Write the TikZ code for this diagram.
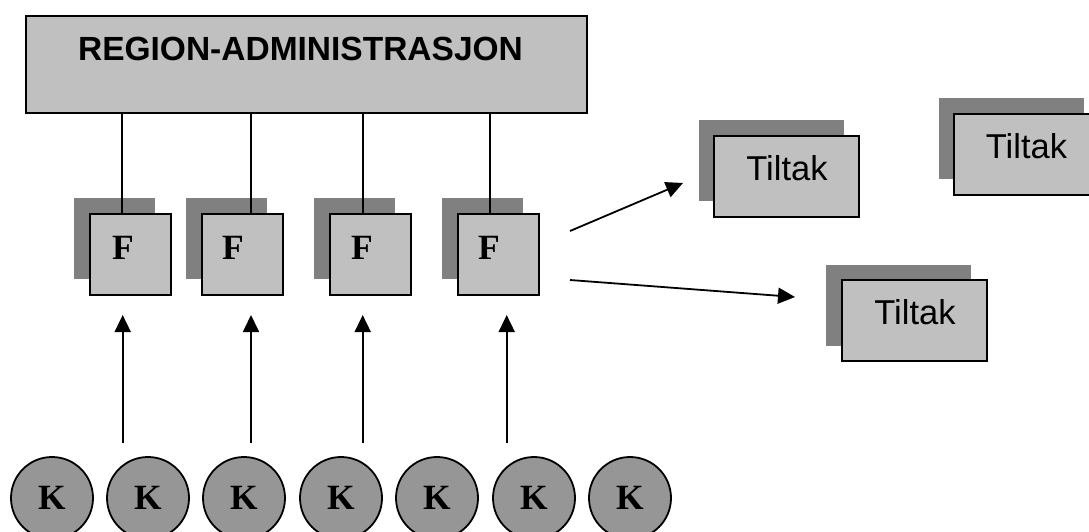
\documentclass[tikz,border=0pt]{standalone}
\usepackage{fontspec}
\setmainfont{Liberation Serif}
\newfontfamily\arialf{Liberation Sans}
\usetikzlibrary{arrows.meta}
\definecolor{boxgray}{RGB}{192,192,192}
\definecolor{shadowgray}{RGB}{128,128,128}
\definecolor{kgray}{RGB}{150,150,150}
\begin{document}
\begin{tikzpicture}[x=1pt,y=-1pt,
  shadowbox/.style={fill=shadowgray, draw=none, anchor=north west, inner sep=0pt, outer sep=0pt},
  frontbox/.style={fill=boxgray, draw=black, line width=2.2pt, anchor=north west, inner sep=0pt, outer sep=0pt},
  fsq/.style={minimum width=81pt, minimum height=81pt},
  tsq/.style={minimum width=145pt, minimum height=81pt},
  kcirc/.style={circle, fill=kgray, draw=black, line width=1.8pt, minimum size=82pt, inner sep=0pt},
  ftext/.style={font=\bfseries\fontsize{35.5}{40}\selectfont, anchor=base, inner sep=0pt},
  ttext/.style={font=\arialf\fontsize{34.5}{40}\selectfont, anchor=base, inner sep=0pt},
  conn/.style={draw=black, line width=1.8pt},
  arr/.style={conn, -{Triangle[length=17pt,width=16pt]}}
]
\useasboundingbox (0,0) rectangle (1089,531);
\clip (0,0) rectangle (1089,531);
\fill[white] (0,0) rectangle (1089,531);

% region box
\node[frontbox, minimum width=561pt, minimum height=97pt] (region) at (26,16) {};
\node[font=\arialf\bfseries\fontsize{33.5}{40}\selectfont, anchor=base, inner sep=0pt] (regiontxt) at (300.5,60) {REGION-ADMINISTRASJON};

% F shadows
\node[shadowbox, fsq] (fs1) at (74,198) {};
\node[shadowbox, fsq] (fs2) at (186,198) {};
\node[shadowbox, fsq] (fs3) at (314,198) {};
\node[shadowbox, fsq] (fs4) at (442,198) {};

% connectors region -> F (drawn before front boxes)
\coordinate (c1) at (122,214);
\coordinate (c2) at (251,214);
\coordinate (c3) at (363,214);
\coordinate (c4) at (490,214);
\foreach \i in {1,...,4}{
  \draw[conn] (c\i) -- (c\i |- region.south);
}

% F front boxes
\node[frontbox, fsq] (f1) at (90,214) {};
\node[frontbox, fsq] (f2) at (202,214) {};
\node[frontbox, fsq] (f3) at (330,214) {};
\node[frontbox, fsq] (f4) at (458,214) {};
\node[ftext] (ft1) at (123,259) {F};
\node[ftext] (ft2) at (233,259) {F};
\node[ftext] (ft3) at (362,259) {F};
\node[ftext] (ft4) at (489,259) {F};

% Tiltak boxes
\node[shadowbox, tsq] (ts1) at (699,120) {};
\node[frontbox, tsq] (t1) at (714,136) {};
\node[ttext] (tt1) at (787,180) {Tiltak};

\node[shadowbox, tsq] (ts2) at (939,98) {};
\node[frontbox, tsq] (t2) at (954,114) {};
\node[ttext] (tt2) at (1026.5,158.5) {Tiltak};

\node[shadowbox, tsq] (ts3) at (826,265) {};
\node[frontbox, tsq] (t3) at (842,280) {};
\node[ttext] (tt3) at (915,324) {Tiltak};

% arrows from F to Tiltak
\coordinate (d1) at (570,231);
\coordinate (e1) at (683,183);
\coordinate (d2) at (570,280);
\coordinate (e2) at (795,297);
\draw[arr] (d1) -- (e1);
\draw[arr] (d2) -- (e2);

% K circles
\foreach \i/\x in {1/52,2/148,3/244,4/341,5/437,6/534,7/630}{
  \node[kcirc] (k\i) at (\x,498) {};
  \node[ftext] (kt\i) at (\x,509) {K};
}

% upward arrows
\coordinate (u1) at (122.7,443);
\coordinate (u2) at (251,443);
\coordinate (u3) at (362.7,443);
\coordinate (u4) at (506.7,443);
\foreach \i in {1,...,4}{
  \draw[arr] (u\i) -- ([yshift=-20pt]u\i |- f\i.south);
}
\end{tikzpicture}
\end{document}
